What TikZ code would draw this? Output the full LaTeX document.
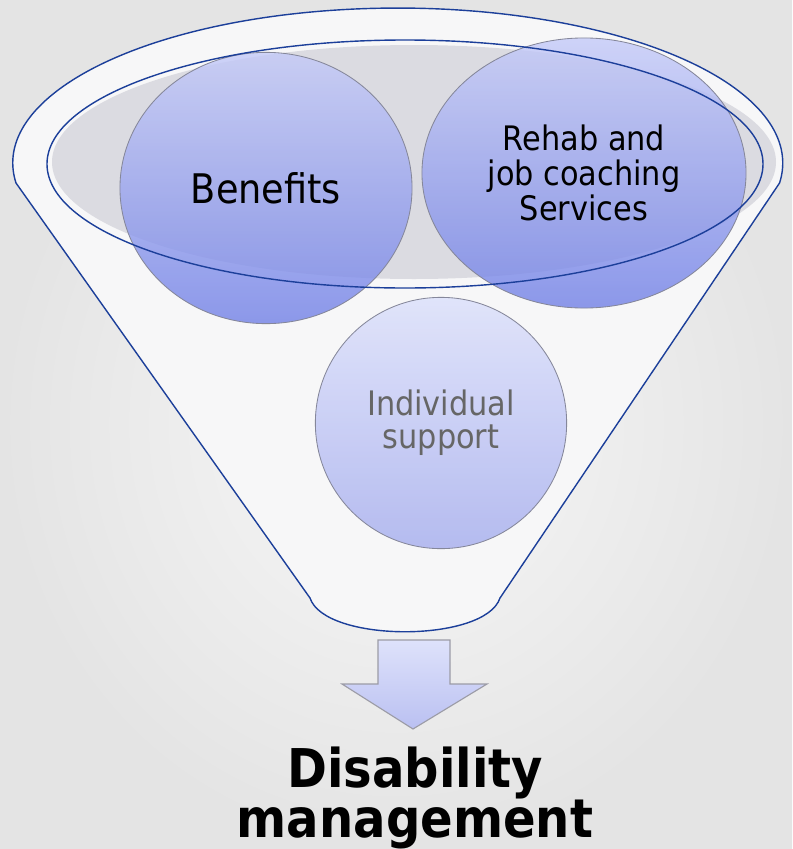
\documentclass[tikz,border=0pt]{standalone}
\usepackage{fontspec}
\setmainfont{DejaVu Sans}[FakeStretch=0.9]
\usetikzlibrary{shapes.geometric}
\definecolor{bgin}{HTML}{F8F8F8}
\definecolor{bgout}{HTML}{E4E4E4}
\definecolor{rimblue}{HTML}{1C3F9A}
\definecolor{funnelfill}{HTML}{F7F7F8}
\definecolor{mouthgray}{HTML}{DBDBE1}
\definecolor{bubbleedge}{HTML}{85879A}
\definecolor{bubbletop}{HTML}{C4CAF8}
\definecolor{bubblebot}{HTML}{7180E6}
\definecolor{paletop}{HTML}{DEE2FB}
\definecolor{palebot}{HTML}{AEB5EF}
\definecolor{arrowedge}{HTML}{9C9CA6}
\definecolor{softtext}{HTML}{666666}

\begin{document}
\begin{tikzpicture}[
          x=0.025cm,y=-0.025cm,
          bubble/.style={draw=bubbleedge,line width=0.6pt,ellipse,inner sep=0pt,
            top color=bubbletop,bottom color=bubblebot,fill opacity=0.8,
            text opacity=1,align=center},
          pale/.style={bubble,top color=paletop,bottom color=palebot,fill opacity=0.9,
            text=softtext}
            ]
            \fill[inner color=bgin,outer color=bgout] (0,0) rectangle (792,849);
            \useasboundingbox (0,0) rectangle (792,849);
            % funnel body and its mouth
            \draw[rimblue,line width=1pt,fill=funnelfill] (16,183)
              arc[start angle=172.6,end angle=367.4,x radius=385,y radius=155]
              -- (500,598) .. controls (485,643) and (325,643) .. (310,598) -- cycle;
            \fill[mouthgray] (414,162) ellipse [x radius=362,y radius=117];
            \node[bubble,minimum width=7.3cm,minimum height=6.78cm,
              font=\fontsize{29}{31}\selectfont] (ben) at (266,188) {Benefits};
            \node[bubble,minimum width=8.1cm,minimum height=6.75cm,
              font=\fontsize{24}{25}\selectfont] (rehab) at (584,173)
              {Rehab and\\job coaching\\Services};
            \node[pale,minimum width=6.28cm,minimum height=6.28cm,
              font=\fontsize{24}{23.5}\selectfont] (indiv) at (441,423)
              {Individual\\support};
            \draw[rimblue,line width=1pt] (405,164) ellipse [x radius=358,y radius=124];
            % arrow down to the result
            \draw[arrowedge,line width=0.8pt,top color=paletop,bottom color=palebot!85]
              (378,640) -- (450,640) -- (450,684) -- (487,684) -- (413,729)
              -- (342,684) -- (378,684) -- cycle;
            \node[align=center,font=\fontsize{38}{36}\selectfont\bfseries] (dm) at (415,798)
              {Disability\\management};
            \end{tikzpicture}
\end{document}
